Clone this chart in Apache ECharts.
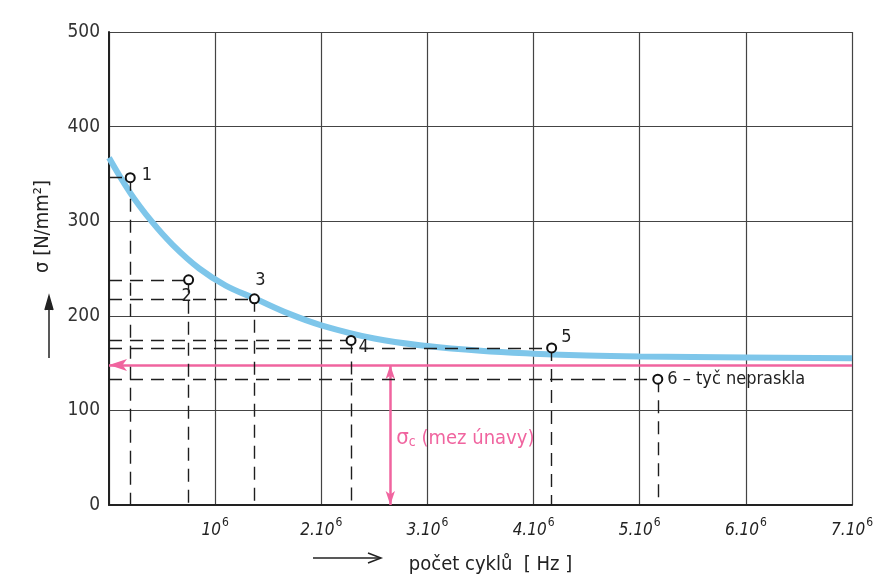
<!DOCTYPE html>
<html>
<head>
<meta charset="utf-8">
<script src="https://cdn.jsdelivr.net/npm/echarts@6/dist/echarts.min.js"></script>
<style>
html,body{margin:0;padding:0;background:#fff;}
#chart{width:876px;height:585px;}
</style>
</head>
<body>
<div id="chart"></div>
<script>
// ---- data ----
const xTickLabels = ['', '10', '2.10', '3.10', '4.10', '5.10', '6.10', '7.10']; // ×10^6 cycles
const xTickExponent = '6';
const curveX = [0, 0.2, 0.4, 0.6, 0.85, 1.1, 1.38, 1.7, 2.0, 2.5, 3.0, 3.5, 4.0, 4.5, 5.0, 6.0, 7.0];
const curveSigma = [367, 330, 300, 275, 250, 232, 218, 202, 190, 176, 168, 163, 160, 158, 157, 156, 155];
const pointX = [0.2, 0.75, 1.37, 2.28, 4.17, 5.17];
const pointSigma = [346, 238, 218, 174, 166, 133];
const pointLabels = ['1', '2', '3', '4', '5', '6 – tyč nepraskla'];
const fatigueLimit = 148;
const fatigueArrowX = 2.65;
const fatigueLabelSigma = 73;
const fatigueLabel = ['σ', 'c', ' (mez únavy)'];

// ---- styles ----
const FONT = 'DejaVu Sans Condensed';
const PINK = '#f0649f';
const BLUE = '#7ec6ea';
const INK = '#222222';
const labelStyles = [
  {position: 'right', distance: 6, offset: [0, -2]},
  {position: 'bottom', distance: 2, offset: [-2, 0]},
  {position: 'top', distance: 4, offset: [6, 0]},
  {position: 'right', distance: 2, offset: [0, 7]},
  {position: 'right', distance: 4, offset: [0, -11]},
  {position: 'right', distance: 4, offset: [0, 0]}
];

const curveData = curveX.map((x, i) => [x, curveSigma[i]]);
const pointData = pointX.map((x, i) => ({
  value: [x, pointSigma[i]],
  label: Object.assign({show: true, formatter: pointLabels[i], color: INK, fontFamily: FONT, fontSize: 18}, labelStyles[i])
}));
const guideLines = [];
pointX.forEach((x, i) => {
  guideLines.push([{coord: [0, pointSigma[i]]}, {coord: [x, pointSigma[i]]}]);
  guideLines.push([{coord: [x, pointSigma[i]]}, {coord: [x, 0]}]);
});

const chart = echarts.init(document.getElementById('chart'), null, {renderer: 'canvas'});
chart.setOption({
  backgroundColor: '#ffffff',
  animation: false,
  textStyle: {fontFamily: FONT},
  grid: {left: 109, right: 12, top: 32, bottom: 80, containLabel: false},
  xAxis: {
    type: 'value', min: 0, max: 7, interval: 1,
    name: 'počet cyklů  [ Hz ]',
    nameLocation: 'middle', nameGap: 50,
    nameTextStyle: {fontFamily: FONT, fontSize: 20, color: INK, padding: [0, 0, 0, 20]},
    axisLine: {show: true, lineStyle: {color: INK, width: 2}},
    axisTick: {show: false},
    splitLine: {show: true, lineStyle: {color: '#444', width: 1.2}},
    axisLabel: {
      margin: 12,
      formatter: v => {
        const t = xTickLabels[Math.round(v)];
        return t ? '{b|' + t + '}{s|' + xTickExponent + '}' : '';
      },
      rich: {
        b: {fontFamily: FONT, fontSize: 17, color: INK, fontStyle: 'italic', lineHeight: 22, verticalAlign: 'bottom'},
        s: {fontFamily: FONT, fontSize: 12, color: INK, lineHeight: 22, verticalAlign: 'top', padding: [0, 0, 6, 1]}
      }
    }
  },
  yAxis: {
    type: 'value', min: 0, max: 500, interval: 100,
    name: 'σ [N/mm²]',
    nameLocation: 'middle', nameRotate: 90, nameGap: 56,
    nameTextStyle: {fontFamily: FONT, fontSize: 20, color: INK, padding: [0, 0, 0, 84]},
    axisLine: {show: true, lineStyle: {color: INK, width: 2}},
    axisTick: {show: false},
    splitLine: {show: true, lineStyle: {color: '#444', width: 1.2}},
    axisLabel: {fontFamily: FONT, fontSize: 19, color: '#333', margin: 9}
  },
  series: [
    {
      name: 'Wöhlerova křivka', type: 'line', data: curveData, smooth: 0.4,
      showSymbol: false, symbol: 'none',
      lineStyle: {color: BLUE, width: 6}, z: 3
    },
    {
      name: 'mez únavy', type: 'line', data: [], z: 4,
      markLine: {
        silent: true, animation: false,
        lineStyle: {color: PINK, width: 2.5, type: 'solid'},
        label: {show: false},
        data: [
          [{coord: [0, fatigueLimit], symbol: 'arrow', symbolSize: [9, 18]}, {coord: [7, fatigueLimit], symbol: 'none'}],
          [{coord: [fatigueArrowX, fatigueLimit], symbol: 'arrow', symbolSize: [7, 14]}, {coord: [fatigueArrowX, 0], symbol: 'arrow', symbolSize: [7, 14]}]
        ]
      },
      markPoint: {
        silent: true, symbol: 'circle', symbolSize: 0,
        data: [{
          coord: [fatigueArrowX, fatigueLabelSigma],
          label: {
            show: true, position: 'right', distance: 6,
            formatter: '{a|' + fatigueLabel[0] + '}{c|' + fatigueLabel[1] + '}{t|' + fatigueLabel[2] + '}',
            rich: {
              a: {fontFamily: FONT, fontSize: 22, color: PINK, lineHeight: 26, verticalAlign: 'bottom'},
              c: {fontFamily: FONT, fontSize: 14, color: PINK, lineHeight: 26, verticalAlign: 'bottom'},
              t: {fontFamily: FONT, fontSize: 20, color: PINK, lineHeight: 26, verticalAlign: 'bottom'}
            }
          }
        }]
      }
    },
    {
      name: 'zkoušky', type: 'scatter', data: pointData, z: 8,
      symbol: 'emptyCircle', symbolSize: 9,
      itemStyle: {color: '#111', borderColor: '#111', borderWidth: 1.6, opacity: 1},
      markLine: {
        silent: true, animation: false, symbol: 'none', z: 5,
        lineStyle: {color: '#1e1e1e', width: 1.4, type: [13, 8]},
        label: {show: false},
        data: guideLines
      }
    }
  ],
  graphic: [
    {type: 'line', shape: {x1: 313, y1: 558, x2: 380, y2: 558}, style: {stroke: INK, lineWidth: 1.5}},
    {type: 'polyline', shape: {points: [[368, 553], [381, 558], [368, 563]]}, style: {stroke: INK, lineWidth: 1.5, fill: null}},
    {type: 'line', shape: {x1: 49, y1: 358, x2: 49, y2: 297}, style: {stroke: INK, lineWidth: 1.5}},
    {type: 'polyline', shape: {points: [[45, 310], [49, 296], [53, 310]]}, style: {stroke: INK, lineWidth: 1.5, fill: INK}}
  ]
});
</script>
</body>
</html>
